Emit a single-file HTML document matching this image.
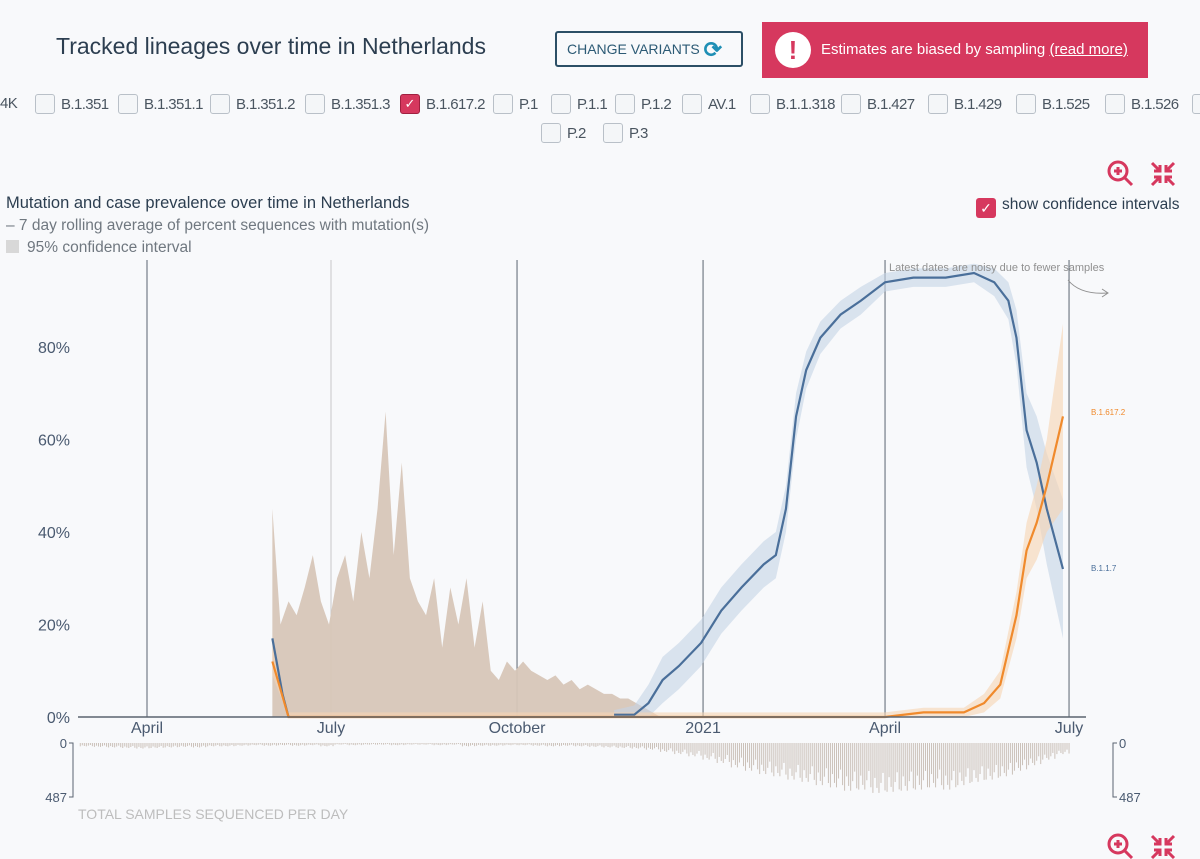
<!DOCTYPE html>
<html><head><meta charset="utf-8">
<style>
body{margin:0;width:1200px;height:859px;background:#f8f9fb;font-family:"Liberation Sans",sans-serif;overflow:hidden;position:relative;color:#2c3e50}
.abs{position:absolute}
.cb{position:absolute;width:20px;height:20px;border:1.5px solid #b9c0c8;border-radius:3px;background:#f4f6f8;box-sizing:border-box}
.cbl{position:absolute;font-size:15px;color:#4a5560;letter-spacing:-0.6px}
</style></head><body>
<div class="abs" style="left:56px;top:33px;font-size:23px;color:#2c3e50">Tracked lineages over time in Netherlands</div>
<div class="abs" style="left:555px;top:31px;height:32px;border:2px solid #2c4f66;border-radius:3px;font-size:14px;color:#2c5a75;line-height:32px;padding-left:10px;width:174px">CHANGE VARIANTS <span style="color:#1f8fb5;font-size:22px;vertical-align:-3px;font-weight:bold">⟳</span></div>
<div class="abs" style="left:762px;top:22px;width:386px;height:56px;background:#d6385e;color:#fff;font-size:15px;line-height:56px">
 <span style="position:absolute;left:13px;top:10px;width:36px;height:36px;border-radius:50%;background:#fff;color:#d6385e;font-weight:bold;font-size:26px;line-height:36px;text-align:center">!</span>
 <span style="position:absolute;left:59px">Estimates are biased by sampling <u>(read more)</u></span></div>
<div id="cbs"></div>
<div class="abs" style="left:6px;top:194px;font-size:16.5px;color:#2c3e50">Mutation and case prevalence over time in Netherlands</div>
<div class="abs" style="left:6px;top:217px;font-size:15.5px;color:#707880">– 7 day rolling average of percent sequences with mutation(s)</div>
<div class="abs" style="left:6px;top:239px;font-size:15.5px;color:#707880"><span style="display:inline-block;width:13px;height:13px;background:#d8d8d8;margin-right:8px;vertical-align:-1px"></span>95% confidence interval</div>
<div class="abs" style="left:976px;top:196px;font-size:15.5px;color:#2c3e50"><span style="display:inline-block;width:20px;height:20px;background:#d6385e;border-radius:3px;color:#fff;text-align:center;line-height:20px;font-size:14px;vertical-align:-4px;margin-right:6px">✓</span>show confidence intervals</div>
<svg id="ch" class="abs" style="left:0;top:0" width="1200" height="859"></svg>
<script>
// ---- data ----
const cbLabels=["B.1.351","B.1.351.1","B.1.351.2","B.1.351.3","B.1.617.2","P.1","P.1.1","P.1.2","AV.1","B.1.1.318","B.1.427","B.1.429","B.1.525","B.1.526",""];
const cbX=[35,118,210,305,400,493,551,615,682,750,841,928,1016,1105,1192];
const xTickLabels=["April","July","October","2021","April","July"];
const xTickDates=["2020-04-01","2020-07-01","2020-10-01","2021-01-01","2021-04-01","2021-07-01"];
const yTicks=[0,20,40,60,80];
const b117Dates=["2020-11-18","2020-11-28","2020-12-05","2020-12-12","2020-12-20","2020-12-31","2021-01-10","2021-01-20","2021-01-31","2021-02-06","2021-02-11","2021-02-16","2021-02-21","2021-02-28","2021-03-10","2021-03-20","2021-04-01","2021-04-15","2021-05-01","2021-05-15","2021-05-25","2021-06-01","2021-06-05","2021-06-10","2021-06-15","2021-06-20","2021-06-28"];
const b117Vals=[0.5,0.5,3,8,11,16,23,28,33,35,45,65,75,82,87,90,94,95,95,96,94,90,82,62,55,45,32];
const b117Ci=[1,2,4,5,5,5,5,5,5,5,5,5,4,3.5,3,3,2,2,2,2,3,4,6,8,10,12,15];
const b117Early=[17,5,0];
const earlyDates=["2020-06-02","2020-06-07","2020-06-10"];
const b1617Dates=["2020-06-02","2020-06-10","2021-04-01","2021-04-20","2021-05-10","2021-05-20","2021-05-28","2021-06-05","2021-06-10","2021-06-15","2021-06-20","2021-06-28"];
const b1617Vals=[12,0,0,1,1,3,7,22,36,42,50,65];
const b1617Ci=[3,1,1,1,1,2,3,5,6,8,10,20];
const caseStart="2020-06-02";
const caseUpper=[45,20,25,22,28,35,25,20,30,35,25,40,30,45,66,35,55,30,25,22,30,15,28,20,30,15,25,10,8,12,10,12,10,9,8,9,7,8,6,7,6,5,5,4,4,3,2,1,0];
const sampleStart="2020-02-28";
const weeklySamples=[30,35,40,45,50,45,40,35,40,30,30,25,20,25,20,25,20,30,15,20,15,15,20,15,15,20,15,30,25,25,20,20,25,30,25,30,35,40,45,50,60,80,100,120,150,180,220,250,280,300,330,350,380,400,430,420,450,440,430,420,400,420,380,350,330,300,250,200,150,100];
const weekdayFactor=[1,0.7,0.9,1,0.8,0.6,0.95];
// ---- scales ----
const day=d=>(new Date(d)-new Date("2020-04-01"))/864e5;
const X=d=>147+day(d)*2.022, Y=v=>717-v*4.625;
const SY=v=>743+v*54/487;
const svg=document.getElementById('ch'),NS='http://www.w3.org/2000/svg';
function mk(t,a,p){const e=document.createElementNS(NS,t);for(const k in a)e.setAttribute(k,a[k]);(p||svg).appendChild(e);return e}
function addDays(d,n){const t=new Date(d);t.setUTCDate(t.getUTCDate()+n);return t.toISOString().slice(0,10)}
// checkboxes
const cbs=document.getElementById('cbs');
const l4=document.createElement('div');l4.className='cbl';l4.style.cssText='left:0;top:95px';l4.textContent='4K';


cbs.appendChild(l4);
function addCb(x,y,label,checked){const b=document.createElement('div');b.className='cb';b.style.left=x+'px';b.style.top=y+'px';
if(checked){b.style.background='#d6385e';b.style.borderColor='#a02040';b.style.color='#fff';b.style.fontSize='13px';b.style.textAlign='center';b.style.lineHeight='18px';b.textContent='✓';}


cbs.appendChild(b);
const l=document.createElement('div');l.className='cbl';l.style.left=(x+26)+'px';l.style.top=(y+2)+'px';l.textContent=label;


cbs.appendChild(l);}
cbLabels.forEach((s,i)=>addCb(cbX[i],94,s,s==="B.1.617.2"));
addCb(541,123,"P.2",false);addCb(603,123,"P.3",false);
// gridlines
xTickDates.forEach((d,i)=>{const x=X(d);
const g=mk('line',{x1:x,x2:x,y1:260,y2:717,stroke:i==1?'#c8c8c8':'#5a6470','stroke-width':1});


const t=mk('text',{x:x,y:733,'text-anchor':'middle','font-size':16,fill:'#4a5a70'});t.textContent=xTickLabels[i];

});
yTicks.forEach(v=>{const t=mk('text',{x:70,y:Y(v)+6,'text-anchor':'end','font-size':16,fill:'#4a5a70'});t.textContent=v+'%';

});
// case CI area
let p='M'+X(caseStart)+','+Y(0);
caseUpper.forEach((v,i)=>{p+=' L'+X(addDays(caseStart,i*4))+','+Y(v)});
p+=' L'+X(addDays(caseStart,(caseUpper.length-1)*4))+','+Y(0)+'Z';
const ca=mk('path',{d:p,fill:'#d7c6b8',opacity:0.95});


function band(dates,vals,ci,color,name){let up='',lo='';
dates.forEach((d,i)=>{up+=(i?' L':'M')+X(d)+','+Y(Math.min(100,vals[i]+ci[i]))});
for(let i=dates.length-1;i>=0;i--)lo+=' L'+X(dates[i])+','+Y(Math.max(0,vals[i]-ci[i]));
const e=mk('path',{d:up+lo+'Z',fill:color,opacity:0.6});

}
function line(dates,vals,color,name){const e=mk('polyline',{points:dates.map((d,i)=>X(d)+','+Y(vals[i])).join(' '),fill:'none',stroke:color,'stroke-width':2.2});

}
band(b117Dates,b117Vals,b117Ci,'#c5d4e6','b117-ci');
band(b1617Dates,b1617Vals,b1617Ci,'#f7d3b3','b1617-ci');
line(earlyDates,b117Early,'#4a6f9a','b117-early-line');
line(b117Dates,b117Vals,'#4a6f9a','b117-line');
line(b1617Dates,b1617Vals,'#f08a2c','b1617-line');
const ax=mk('line',{x1:78,x2:1086,y1:717,y2:717,stroke:'#5a6470','stroke-width':1.5});


// labels
const lb1=mk('text',{x:1091,y:415,'font-size':8,fill:'#f08a2c'});lb1.textContent='B.1.617.2';


const lb2=mk('text',{x:1091,y:571,'font-size':8,fill:'#4a6f9a'});lb2.textContent='B.1.1.7';


const an=mk('text',{x:889,y:271,'font-size':11,fill:'#909090'});an.textContent='Latest dates are noisy due to fewer samples';


const arr=mk('path',{d:'M1068,280 Q1080,295 1108,293 M1102,289 L1108,293 L1102,297',fill:'none',stroke:'#909090'});


// samples bars
weeklySamples.forEach((v,w)=>{for(let k=0;k<7;k++){const x=X(addDays(sampleStart,w*7+k));
const b=mk('line',{x1:x,x2:x,y1:743,y2:SY(v*weekdayFactor[k]),stroke:'#cbc1b9','stroke-width':1});

}});
[[73,'end',67],[1113,'start',1119]].forEach(([x,a,tx],i)=>{
const ax2=mk('path',{d:i?`M${x+4},743 L${x},743 L${x},797 L${x+4},797`:`M${x-4},743 L${x},743 L${x},797 L${x-4},797`,fill:'none',stroke:'#5a6470'});


const t0=mk('text',{x:tx,y:748,'text-anchor':a,'font-size':13,fill:'#4a5a70'});t0.textContent='0';


const t1=mk('text',{x:tx,y:802,'text-anchor':a,'font-size':13,fill:'#4a5a70'});t1.textContent='487';

});
const st=mk('text',{x:78,y:819,'font-size':14,fill:'#bdbdbd'});st.textContent='TOTAL SAMPLES SEQUENCED PER DAY';


// icons
function zoomIcon(x,y){const g=mk('g',{stroke:'#d6385e',fill:'none','stroke-width':3});


mk('circle',{cx:x,cy:y,r:9},g);mk('path',{d:`M${x+6},${y+6} L${x+14},${y+14} M${x-4},${y} L${x+4},${y} M${x},${y-4} L${x},${y+4}`},g);}
function shrinkIcon(x,y){const g=mk('g',{stroke:'#d6385e',fill:'none','stroke-width':3});


mk('path',{d:`M${x-11},${y-11} L${x-3},${y-3} M${x-3},${y-9} L${x-3},${y-3} L${x-9},${y-3} M${x+11},${y-11} L${x+3},${y-3} M${x+3},${y-9} L${x+3},${y-3} L${x+9},${y-3} M${x-11},${y+11} L${x-3},${y+3} M${x-3},${y+9} L${x-3},${y+3} L${x-9},${y+3} M${x+11},${y+11} L${x+3},${y+3} M${x+3},${y+9} L${x+3},${y+3} L${x+9},${y+3}`},g);}
zoomIcon(1118,171);shrinkIcon(1163,174);zoomIcon(1118,844);shrinkIcon(1163,847);
</script>
</body></html>
